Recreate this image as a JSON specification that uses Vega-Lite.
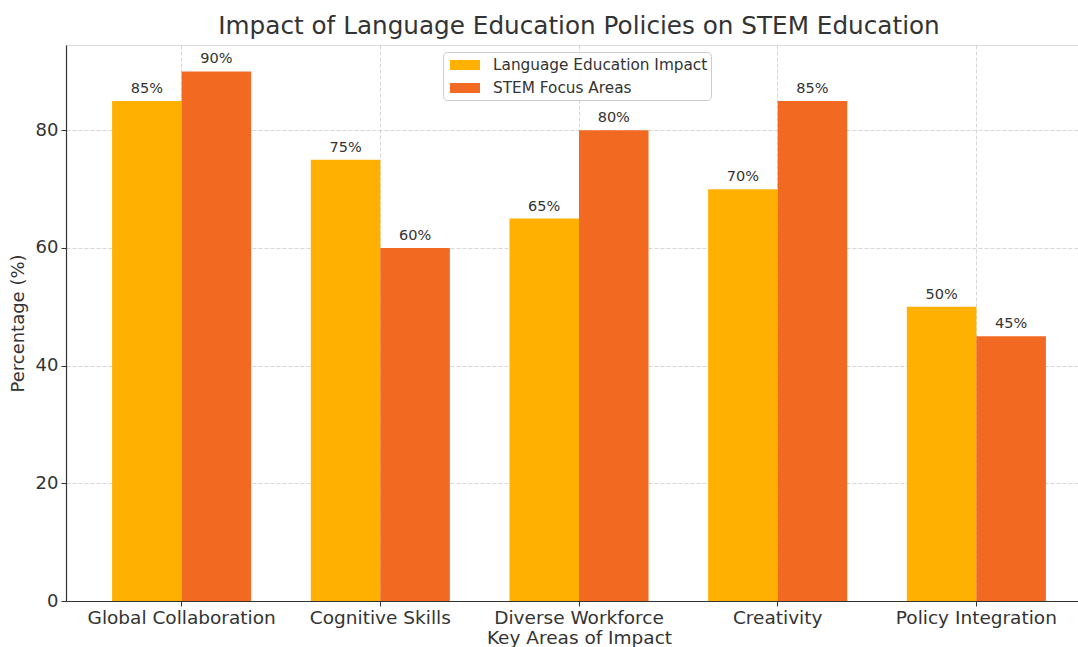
{
  "$schema": "https://vega.github.io/schema/vega-lite/v6.json",
  "autosize": {"type": "none"},
  "padding": {"left": 66, "top": 45, "right": 0, "bottom": 46},
  "width": 1012,
  "height": 556,
  "background": "white",
  "title": {
    "text": "Impact of Language Education Policies on STEM Education",
    "font": "DejaVu Sans",
    "fontSize": 24.7,
    "fontWeight": "normal",
    "color": "#333333",
    "anchor": "middle",
    "frame": "group",
    "dx": 7,
    "offset": 6
  },
  "data": {
    "values": [
      {"area": "Global Collaboration", "series": "Language Education Impact", "value": 85, "label": "85%"},
      {"area": "Global Collaboration", "series": "STEM Focus Areas", "value": 90, "label": "90%"},
      {"area": "Cognitive Skills", "series": "Language Education Impact", "value": 75, "label": "75%"},
      {"area": "Cognitive Skills", "series": "STEM Focus Areas", "value": 60, "label": "60%"},
      {"area": "Diverse Workforce", "series": "Language Education Impact", "value": 65, "label": "65%"},
      {"area": "Diverse Workforce", "series": "STEM Focus Areas", "value": 80, "label": "80%"},
      {"area": "Creativity", "series": "Language Education Impact", "value": 70, "label": "70%"},
      {"area": "Creativity", "series": "STEM Focus Areas", "value": 85, "label": "85%"},
      {"area": "Policy Integration", "series": "Language Education Impact", "value": 50, "label": "50%"},
      {"area": "Policy Integration", "series": "STEM Focus Areas", "value": 45, "label": "45%"}
    ]
  },
  "encoding": {
    "x": {
      "field": "area",
      "type": "nominal",
      "sort": null,
      "scale": {"paddingInner": 0.3, "paddingOuter": 0.232, "range": [0, 1026]},
      "axis": {
        "title": "Key Areas of Impact",
        "titleFont": "DejaVu Sans",
        "titleFontSize": 18.5,
        "titleFontWeight": "normal",
        "titleColor": "#333333",
        "titlePadding": 2,
        "labelAngle": 0,
        "labelFont": "DejaVu Sans",
        "labelFontSize": 18.5,
        "labelColor": "#333333",
        "labelPadding": 2,
        "labelLimit": 400,
        "labelOverlap": false,
        "domainColor": "#333333",
        "domainWidth": 1.2,
        "tickColor": "#333333",
        "tickSize": 5,
        "grid": true,
        "gridColor": "#cccccc",
        "gridDash": [4, 2],
        "gridWidth": 0.8
      }
    },
    "xOffset": {"field": "series", "type": "nominal", "scale": {"paddingInner": 0, "paddingOuter": 0}},
    "y": {
      "field": "value",
      "type": "quantitative",
      "scale": {"domain": [0, 94.5], "nice": false},
      "axis": {
        "title": "Percentage (%)",
        "titleFont": "DejaVu Sans",
        "titleFontSize": 18,
        "titleFontWeight": "normal",
        "titleColor": "#333333",
        "titlePadding": 8,
        "values": [0, 20, 40, 60, 80],
        "labelFont": "DejaVu Sans",
        "labelFontSize": 18,
        "labelColor": "#333333",
        "labelPadding": 3,
        "domainColor": "#333333",
        "domainWidth": 1.2,
        "tickColor": "#333333",
        "tickSize": 5,
        "grid": true,
        "gridColor": "#cccccc",
        "gridDash": [4, 2],
        "gridWidth": 0.8
      }
    }
  },
  "layer": [
    {
      "mark": {"type": "bar"},
      "encoding": {
        "color": {
          "field": "series",
          "type": "nominal",
          "scale": {
            "domain": ["Language Education Impact", "STEM Focus Areas"],
            "range": ["#FFB000", "#F26A22"]
          },
          "legend": {
            "title": null,
            "orient": "none",
            "legendX": 377,
            "legendY": 7,
            "direction": "vertical",
            "labelFont": "DejaVu Sans",
            "labelFontSize": 15.3,
            "labelColor": "#333333",
            "labelLimit": 400,
            "labelOffset": 18,
            "symbolType": "M-1.5,-0.5L1.5,-0.5L1.5,0.5L-1.5,0.5Z",
            "symbolSize": 400,
            "symbolOffset": 9,
            "symbolStrokeWidth": 0,
            "rowPadding": 4,
            "padding": 3,
            "strokeColor": "#cccccc",
            "fillColor": "rgba(255,255,255,0.85)",
            "cornerRadius": 4
          }
        }
      }
    },
    {
      "mark": {
        "type": "text",
        "baseline": "bottom",
        "dy": -5,
        "font": "DejaVu Sans",
        "fontSize": 14.5,
        "color": "#333333"
      },
      "encoding": {
        "text": {"field": "label", "type": "nominal"},
        "detail": {"field": "series"}
      }
    }
  ]
}
